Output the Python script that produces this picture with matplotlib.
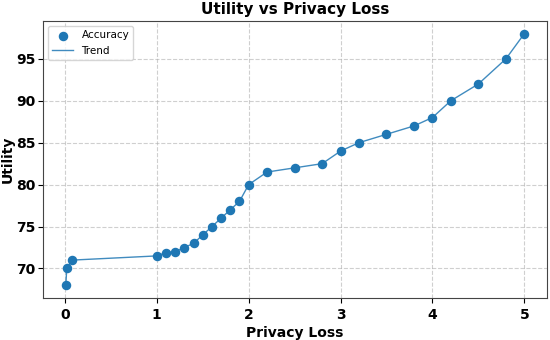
import matplotlib
matplotlib.use("Agg")
import matplotlib.pyplot as plt

privacy_loss = [0.01, 0.02, 0.08, 1.0, 1.1, 1.2, 1.3, 1.4, 1.5, 1.6, 1.7, 1.8, 1.9,
                2.0, 2.2, 2.5, 2.8, 3.0, 3.2, 3.5, 3.8, 4.0, 4.2, 4.5, 4.8, 5.0]
accuracy = [68, 70, 71, 71.5, 71.9, 72, 72.5, 73, 74, 75, 76, 77, 78,
            80, 81.5, 82, 82.5, 84, 85, 86, 87, 88, 90, 92, 95, 98]

fig, ax = plt.subplots(figsize=(5.5, 3.4), dpi=100)
ax.scatter(privacy_loss, accuracy, color="#1f77b4", s=34, zorder=3, label="Accuracy")
ax.plot(privacy_loss, accuracy, color="#1f77b4", linewidth=1, alpha=0.85, label="Trend")
ax.set_title("Utility vs Privacy Loss", fontsize=11, fontweight="bold", pad=5)
ax.set_xlabel("Privacy Loss", fontsize=10, fontweight="bold", labelpad=3)
ax.set_ylabel("Utility", fontsize=10, fontweight="bold")
ax.yaxis.set_label_coords(-0.056, 0.5)
ax.grid(True, linestyle="--", alpha=0.6)
ax.set_yticks([70, 75, 80, 85, 90, 95])
for lab in ax.get_xticklabels() + ax.get_yticklabels():
    lab.set_fontweight("bold")
ax.tick_params(labelsize=10)
ax.tick_params(axis="y", pad=2)
for s in ax.spines.values():
    s.set_color("#444444")
ax.legend(loc="upper left", fontsize=7.5)
fig.subplots_adjust(left=0.078, right=0.995, top=0.938, bottom=0.124)
fig.savefig("out.png")
